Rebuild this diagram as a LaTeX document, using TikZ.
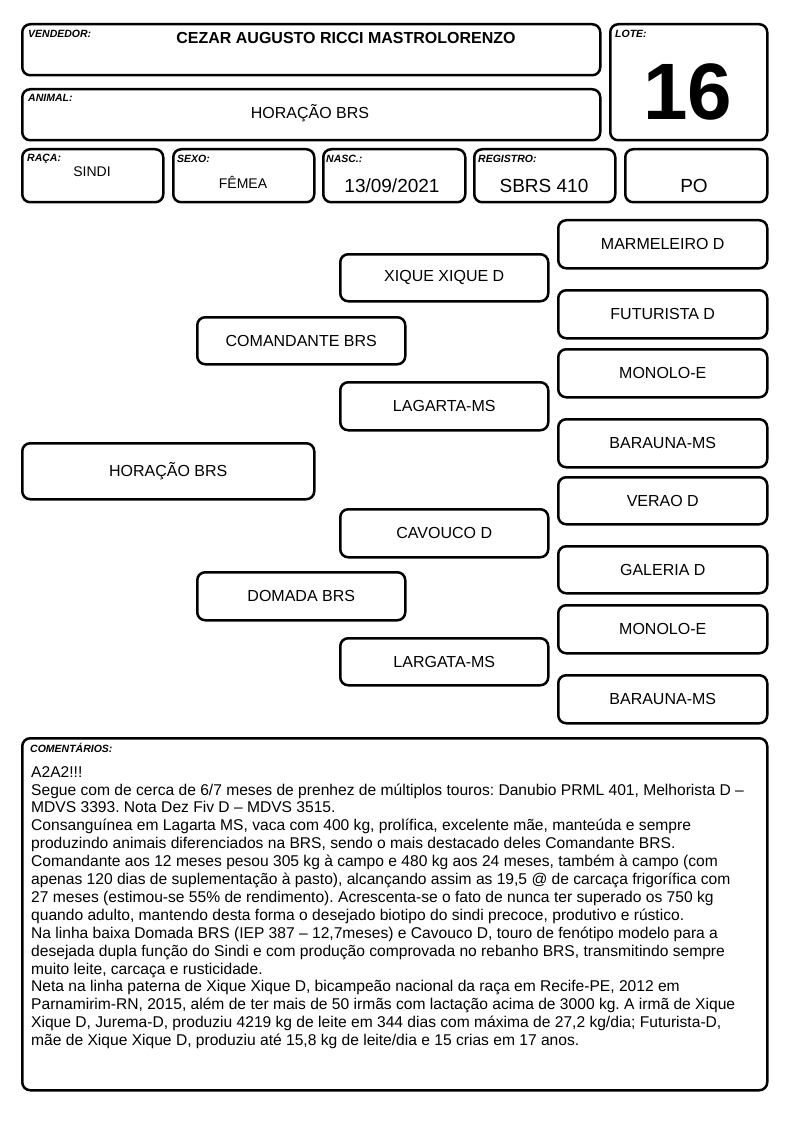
\documentclass[tikz,border=0pt]{standalone}
\usepackage{fontspec}
\setmainfont{Liberation Sans}
\frenchspacing
\begin{document}
\begin{tikzpicture}[x=1pt,y=-1pt,
  box/.style={draw, line width=2.5pt, rounded corners=8pt, inner sep=0pt, anchor=north west, font=\fontsize{16}{19}\selectfont},
  lbl/.style={anchor=base west, inner sep=0pt, font=\fontsize{10.5}{12}\selectfont\bfseries\itshape},
  val/.style={anchor=base, inner sep=0pt},
]
\useasboundingbox (0,0) rectangle (794,1123);
\newcommand{\pbox}[6]{\node[box, minimum width={(#4-#2)*1pt}, minimum height={(#5-#3)*1pt}] (#1) at (#2,#3) {#6};}
% header boxes
\pbox{vend}{21}{23}{599}{74}{}
\pbox{anim}{21}{88}{599}{139}{}
\pbox{lote}{609}{23}{766}{139}{}
\pbox{raca}{21}{148}{162}{201}{}
\pbox{sexo}{172}{148}{313}{201}{}
\pbox{nasc}{322}{148}{464}{201}{}
\pbox{reg}{473}{148}{614}{201}{}
\pbox{po}{624}{148}{766}{201}{}
\node[lbl] (lvend) at (28,38) {VENDEDOR:};
\node[val, font=\fontsize{16}{19}\selectfont\bfseries] (tvend) at (346,44) {CEZAR AUGUSTO RICCI MASTROLORENZO};
\node[lbl] (lanim) at (28,102) {ANIMAL:};
\node[val, font=\fontsize{16}{19}\selectfont] (tanim) at (310,119) {HORAÇÃO BRS};
\node[lbl] (llote) at (615,38) {LOTE:};
\node[val, font=\fontsize{80}{90}\selectfont\bfseries] (tlote) at (688,120) {16};
\node[lbl] (lraca) at (27,162) {RAÇA:};
\node[val, font=\fontsize{14}{17}\selectfont] (traca) at (92,177) {SINDI};
\node[lbl] (lsexo) at (177,163) {SEXO:};
\node[val, font=\fontsize{14}{17}\selectfont] (tsexo) at (243,189) {FÊMEA};
\node[lbl] (lnasc) at (326,163) {NASC.:};
\node[val, font=\fontsize{19}{22}\selectfont] (tnasc) at (392,193) {13/09/2021};
\node[lbl] (lreg) at (478,163) {REGISTRO:};
\node[val, font=\fontsize{19}{22}\selectfont] (treg) at (544,193) {SBRS 410};
\node[val, font=\fontsize{19}{22}\selectfont] (tpo) at (694,193) {PO};
% pedigree
\pbox{p0}{21}{442}{313}{498}{HORAÇÃO BRS}
\pbox{p1}{196}{316}{404}{363}{COMANDANTE BRS}
\pbox{p2}{196}{571}{404}{619}{DOMADA BRS}
\pbox{p3}{339}{253}{547}{300}{XIQUE XIQUE D}
\pbox{p4}{339}{381}{547}{429}{LAGARTA-MS}
\pbox{p5}{339}{508}{547}{556}{CAVOUCO D}
\pbox{p6}{339}{637}{547}{684}{LARGATA-MS}
\pbox{p7}{557}{219}{766}{267}{MARMELEIRO D}
\pbox{p8}{557}{289}{766}{337}{FUTURISTA D}
\pbox{p9}{557}{348}{766}{396}{MONOLO-E}
\pbox{p10}{557}{418}{766}{466}{BARAUNA-MS}
\pbox{p11}{557}{476}{766}{523}{VERAO D}
\pbox{p12}{557}{545}{766}{592}{GALERIA D}
\pbox{p13}{557}{604}{766}{652}{MONOLO-E}
\pbox{p14}{557}{674}{766}{722}{BARAUNA-MS}
% comments
\pbox{com}{21}{737}{766}{1089}{}
\node[lbl] (lcom) at (30,752) {COMENTÁRIOS:};
\node[anchor=north west, inner sep=0pt, align=left, font=\fontsize{15.6}{17.9}\selectfont] (tcom) at (31,766) {A2A2!!!\\
Segue com de cerca de 6/7 meses de prenhez de múltiplos touros: Danubio PRML 401, Melhorista D –\\
MDVS 3393. Nota Dez Fiv D – MDVS 3515.\\
Consanguínea em Lagarta MS, vaca com 400 kg, prolífica, excelente mãe, manteúda e sempre\\
produzindo animais diferenciados na BRS, sendo o mais destacado deles Comandante BRS.\\
Comandante aos 12 meses pesou 305 kg à campo e 480 kg aos 24 meses, também à campo (com\\
apenas 120 dias de suplementação à pasto), alcançando assim as 19,5 @ de carcaça frigorífica com\\
27 meses (estimou-se 55\% de rendimento). Acrescenta-se o fato de nunca ter superado os 750 kg\\
quando adulto, mantendo desta forma o desejado biotipo do sindi precoce, produtivo e rústico.\\
Na linha baixa Domada BRS (IEP 387 – 12,7meses) e Cavouco D, touro de fenótipo modelo para a\\
desejada dupla função do Sindi e com produção comprovada no rebanho BRS, transmitindo sempre\\
muito leite, carcaça e rusticidade.\\
Neta na linha paterna de Xique Xique D, bicampeão nacional da raça em Recife-PE, 2012 em\\
Parnamirim-RN, 2015, além de ter mais de 50 irmãs com lactação acima de 3000 kg. A irmã de Xique\\
Xique D, Jurema-D, produziu 4219 kg de leite em 344 dias com máxima de 27,2 kg/dia; Futurista-D,\\
mãe de Xique Xique D, produziu até 15,8 kg de leite/dia e 15 crias em 17 anos.};
\end{tikzpicture}
\end{document}
